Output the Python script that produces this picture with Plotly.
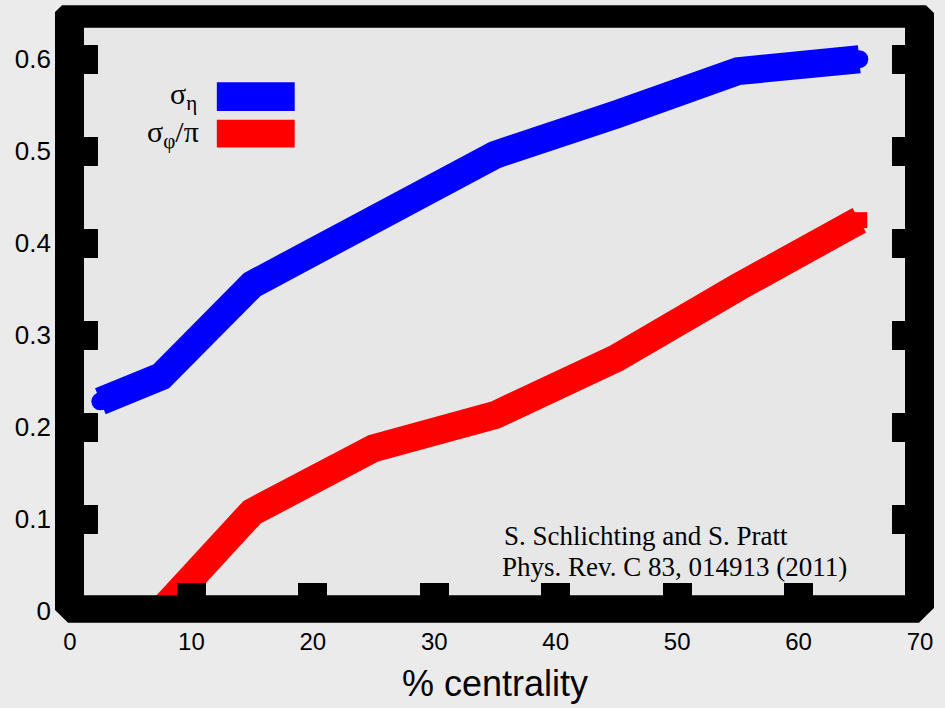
import plotly.graph_objects as go

# ---- data ----
centrality = [2.5, 7.5, 15, 25, 35, 45, 55, 65]
sigma_eta = [0.228, 0.255, 0.355, 0.425, 0.496, 0.540, 0.587, 0.600]
sigma_phi_over_pi = [0.0, 0.0, 0.1075, 0.177, 0.213, 0.275, 0.352, 0.425]
x_tick_vals = [0, 10, 20, 30, 40, 50, 60, 70]
x_tick_text = ["0", "10", "20", "30", "40", "50", "60", "70"]
y_tick_vals = [0, 0.1, 0.2, 0.3, 0.4, 0.5, 0.6]
y_tick_text = ["0", "0.1", "0.2", "0.3", "0.4", "0.5", "0.6"]
legend_labels = ["σ<sub>η</sub>", "σ<sub>φ</sub>/π"]
series_colors = ["#0000ff", "#ff0000"]
citation = ["S. Schlichting and S. Pratt", "Phys. Rev. C 83, 014913 (2011)"]

# ---- layout geometry ----
W, H = 945, 708
ML, MR, MT, MB = 70, 24, 16, 90
PW, PH = W - ML - MR, H - MT - MB


def pp(xp, yp):
    """pixel -> paper coordinates"""
    return (xp - ML) / PW, (H - MB - yp) / PH


def path_from(points):
    s = ""
    for i, (xp, yp) in enumerate(points):
        x, y = pp(xp, yp)
        s += ("M" if i == 0 else "L") + f"{x:.5f},{y:.5f} "
    return s + "Z "


outer = [(62, 5), (927, 5), (935, 13), (935, 615), (920, 630), (68, 630), (55, 617), (55, 12)]
inner = [(84, 28), (906, 28), (906, 602), (84, 602)]
frame_path = path_from(outer) + path_from(inner)

fig = go.Figure()
fig.add_trace(go.Scatter(
    x=centrality, y=sigma_eta, mode="lines+markers",
    line=dict(color=series_colors[0], width=28),
    marker=dict(symbol="circle", size=18, color=series_colors[0]),
    showlegend=False))
fig.add_trace(go.Scatter(
    x=centrality, y=sigma_phi_over_pi, mode="lines+markers",
    line=dict(color=series_colors[1], width=28),
    marker=dict(symbol="square", size=16, color=series_colors[1]),
    showlegend=False))

shapes = [dict(type="path", path=frame_path, xref="paper", yref="paper",
               fillcolor="black", line=dict(width=0), layer="above", fillrule="evenodd")]
# legend swatches
for (y0, y1), c in zip([(83, 112), (121, 149)], series_colors):
    x0p, y0p = pp(217, y1)
    x1p, y1p = pp(295, y0)
    shapes.append(dict(type="rect", xref="paper", yref="paper", x0=x0p, x1=x1p,
                       y0=y0p, y1=y1p, fillcolor=c, line=dict(width=0), layer="above"))

annotations = []
for lab, (xr, yc) in zip(legend_labels, [(199, 97), (201, 135)]):
    x, y = pp(xr, yc)
    annotations.append(dict(text=lab, x=x, y=y, xref="paper", yref="paper",
                            xanchor="right", yanchor="middle", showarrow=False,
                            font=dict(family="Liberation Serif", size=30, color="black")))
for txt, (xp, yc) in zip(citation, [(503, 542), (501, 573)]):
    x, y = pp(xp, yc)
    annotations.append(dict(text=txt, x=x, y=y, xref="paper", yref="paper",
                            xanchor="left", yanchor="middle", showarrow=False,
                            font=dict(family="Liberation Serif", size=27, color="black")))

fig.update_layout(
    width=W, height=H,
    margin=dict(l=ML, r=MR, t=MT, b=MB, pad=0),
    paper_bgcolor="#ebebeb", plot_bgcolor="#e7e7e7",
    shapes=shapes, annotations=annotations,
    xaxis=dict(range=[0, 70], tickvals=x_tick_vals, ticktext=x_tick_text,
               ticks="inside", ticklen=28, tickwidth=29, tickcolor="black",
               showgrid=False, zeroline=False, showline=False,
               tickfont=dict(family="Liberation Sans", size=24, color="black"),
               ticklabelstandoff=14,
               title=dict(text="% centrality", standoff=16,
                          font=dict(family="Liberation Sans", size=36, color="black"))),
    yaxis=dict(range=[0, 0.647], tickvals=y_tick_vals, ticktext=y_tick_text,
               ticks="inside", ticklen=28, tickwidth=29, tickcolor="black",
               mirror="ticks",
               showgrid=False, zeroline=False, showline=False,
               tickfont=dict(family="Liberation Sans", size=26, color="black"),
               ticklabelstandoff=18),
)

fig.write_html("out.html", config={"displayModeBar": False},
               post_script="document.body.style.margin='0';document.body.style.background='#ebebeb';")
